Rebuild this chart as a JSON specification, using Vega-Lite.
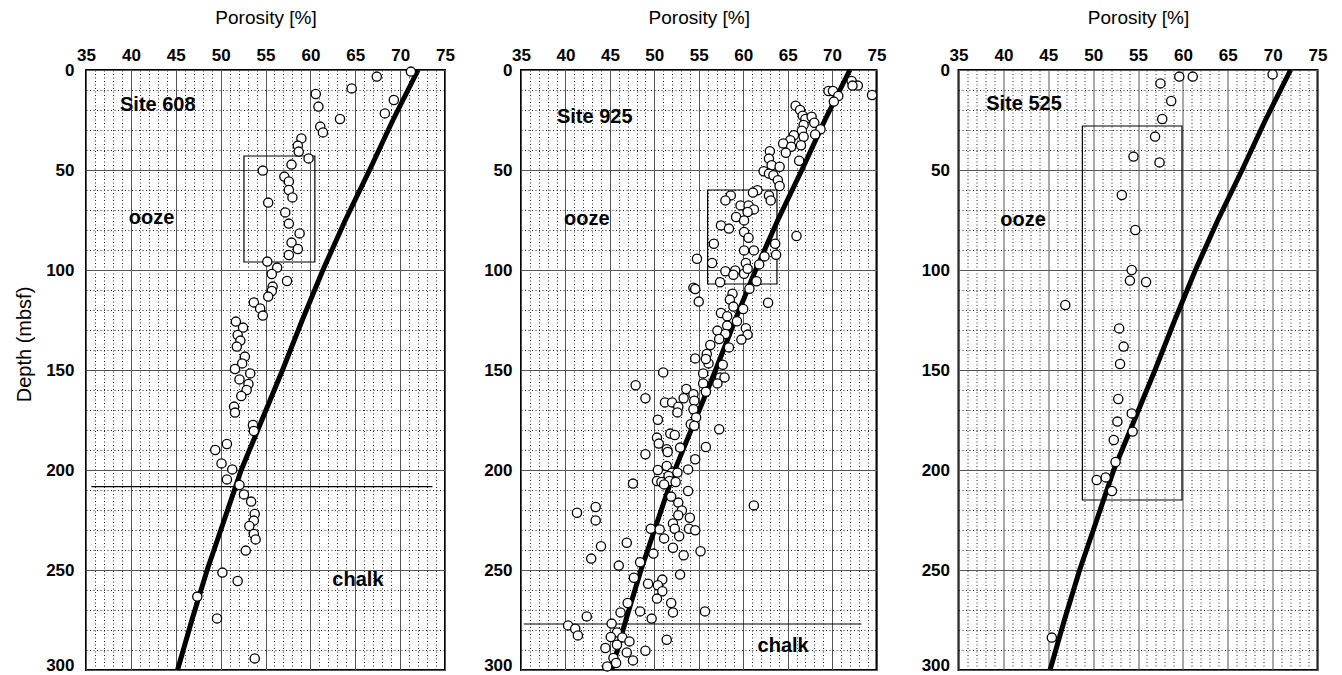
{
  "$schema": "https://vega.github.io/schema/vega-lite/v6.json",
  "autosize": {"type": "pad"},
  "padding": {"left": 13, "top": 7, "right": 5, "bottom": 0},
  "background": "white",
  "config": {
    "view": {"stroke": "#000", "strokeWidth": 2},
    "font": "Liberation Sans"
  },
  "datasets": {
    "pts": [
      {"site": "608", "por": 71.2, "depth": 0.8}, {"site": "608", "por": 67.4, "depth": 3.3}, {"site": "608", "por": 64.6, "depth": 9.2},
      {"site": "608", "por": 60.6, "depth": 12}, {"site": "608", "por": 69.3, "depth": 15}, {"site": "608", "por": 60.9, "depth": 18.3},
      {"site": "608", "por": 68.3, "depth": 21.7}, {"site": "608", "por": 63.3, "depth": 24.5}, {"site": "608", "por": 61.1, "depth": 28.3},
      {"site": "608", "por": 61.4, "depth": 31.2}, {"site": "608", "por": 59.0, "depth": 34.2}, {"site": "608", "por": 58.6, "depth": 37.8},
      {"site": "608", "por": 58.7, "depth": 40.8}, {"site": "608", "por": 59.8, "depth": 44.2}, {"site": "608", "por": 57.9, "depth": 47.3},
      {"site": "608", "por": 54.7, "depth": 50.3}, {"site": "608", "por": 57.1, "depth": 53.3}, {"site": "608", "por": 57.6, "depth": 55.7},
      {"site": "608", "por": 57.6, "depth": 60}, {"site": "608", "por": 58.0, "depth": 63.7}, {"site": "608", "por": 55.3, "depth": 66.3},
      {"site": "608", "por": 57.2, "depth": 71.2}, {"site": "608", "por": 57.6, "depth": 76.8}, {"site": "608", "por": 58.8, "depth": 81.7},
      {"site": "608", "por": 57.9, "depth": 86.3}, {"site": "608", "por": 58.6, "depth": 89.5}, {"site": "608", "por": 57.6, "depth": 92.5},
      {"site": "608", "por": 55.2, "depth": 95.8}, {"site": "608", "por": 56.3, "depth": 98.8}, {"site": "608", "por": 55.7, "depth": 102},
      {"site": "608", "por": 57.4, "depth": 105.5}, {"site": "608", "por": 55.8, "depth": 108.3}, {"site": "608", "por": 55.7, "depth": 110.5},
      {"site": "608", "por": 55.3, "depth": 113.3}, {"site": "608", "por": 53.7, "depth": 116.2}, {"site": "608", "por": 54.4, "depth": 119.2},
      {"site": "608", "por": 54.7, "depth": 122.8}, {"site": "608", "por": 51.7, "depth": 125.8}, {"site": "608", "por": 52.5, "depth": 128.8},
      {"site": "608", "por": 51.9, "depth": 132.5}, {"site": "608", "por": 52.2, "depth": 135.3}, {"site": "608", "por": 51.8, "depth": 138.3},
      {"site": "608", "por": 52.7, "depth": 143.3}, {"site": "608", "por": 52.4, "depth": 146.7}, {"site": "608", "por": 51.6, "depth": 149.5},
      {"site": "608", "por": 53.3, "depth": 151.7}, {"site": "608", "por": 52.1, "depth": 154.7}, {"site": "608", "por": 53.1, "depth": 157},
      {"site": "608", "por": 52.9, "depth": 160}, {"site": "608", "por": 52.3, "depth": 163}, {"site": "608", "por": 51.5, "depth": 168.3},
      {"site": "608", "por": 51.6, "depth": 171.3}, {"site": "608", "por": 53.6, "depth": 177.5}, {"site": "608", "por": 53.7, "depth": 180.5},
      {"site": "608", "por": 50.7, "depth": 187}, {"site": "608", "por": 49.4, "depth": 190}, {"site": "608", "por": 50.1, "depth": 196.7},
      {"site": "608", "por": 51.3, "depth": 199.7}, {"site": "608", "por": 50.7, "depth": 204.7}, {"site": "608", "por": 52.1, "depth": 207.5},
      {"site": "608", "por": 52.6, "depth": 212.2}, {"site": "608", "por": 53.4, "depth": 215.8}, {"site": "608", "por": 53.8, "depth": 222},
      {"site": "608", "por": 53.7, "depth": 225.3}, {"site": "608", "por": 53.2, "depth": 228}, {"site": "608", "por": 53.7, "depth": 232},
      {"site": "608", "por": 53.9, "depth": 234.7}, {"site": "608", "por": 52.8, "depth": 240.3}, {"site": "608", "por": 50.2, "depth": 251.3},
      {"site": "608", "por": 51.9, "depth": 255.5}, {"site": "608", "por": 47.4, "depth": 263.3}, {"site": "608", "por": 49.6, "depth": 274.2},
      {"site": "608", "por": 53.8, "depth": 294.2},

      {"site": "925", "por": 74.5, "depth": 12.5}, {"site": "925", "por": 69.6, "depth": 10.5}, {"site": "925", "por": 70.1, "depth": 10.5},
      {"site": "925", "por": 70.7, "depth": 13}, {"site": "925", "por": 70.2, "depth": 15.8}, {"site": "925", "por": 72.2, "depth": 5.5},
      {"site": "925", "por": 72.9, "depth": 7.8}, {"site": "925", "por": 72.3, "depth": 7.8}, {"site": "925", "por": 65.9, "depth": 17.9},
      {"site": "925", "por": 66.4, "depth": 20}, {"site": "925", "por": 66.7, "depth": 22.9}, {"site": "925", "por": 67.0, "depth": 24.5},
      {"site": "925", "por": 67.7, "depth": 23.4}, {"site": "925", "por": 66.8, "depth": 27.5}, {"site": "925", "por": 68.0, "depth": 26.4},
      {"site": "925", "por": 68.7, "depth": 29.6}, {"site": "925", "por": 68.1, "depth": 32.2}, {"site": "925", "por": 66.6, "depth": 30.4},
      {"site": "925", "por": 66.8, "depth": 33.4}, {"site": "925", "por": 65.7, "depth": 32.6}, {"site": "925", "por": 65.3, "depth": 35.1},
      {"site": "925", "por": 64.5, "depth": 36.7}, {"site": "925", "por": 65.4, "depth": 38.4}, {"site": "925", "por": 66.5, "depth": 37.6},
      {"site": "925", "por": 64.8, "depth": 41.4}, {"site": "925", "por": 66.3, "depth": 45.4}, {"site": "925", "por": 63.0, "depth": 40.6},
      {"site": "925", "por": 62.9, "depth": 44.3}, {"site": "925", "por": 63.2, "depth": 47.6}, {"site": "925", "por": 64.1, "depth": 48.4},
      {"site": "925", "por": 62.3, "depth": 50.6}, {"site": "925", "por": 62.9, "depth": 51.8}, {"site": "925", "por": 63.4, "depth": 52.6},
      {"site": "925", "por": 63.9, "depth": 55.1}, {"site": "925", "por": 64.1, "depth": 58}, {"site": "925", "por": 61.6, "depth": 60.1},
      {"site": "925", "por": 61.1, "depth": 61.3}, {"site": "925", "por": 62.9, "depth": 62.7}, {"site": "925", "por": 63.1, "depth": 65.2},
      {"site": "925", "por": 58.6, "depth": 62.7}, {"site": "925", "por": 58.0, "depth": 65.2}, {"site": "925", "por": 59.7, "depth": 67.7},
      {"site": "925", "por": 60.6, "depth": 67.7}, {"site": "925", "por": 61.2, "depth": 69.7}, {"site": "925", "por": 60.5, "depth": 71},
      {"site": "925", "por": 59.2, "depth": 73.5}, {"site": "925", "por": 60.1, "depth": 75.2}, {"site": "925", "por": 57.5, "depth": 77.7},
      {"site": "925", "por": 58.4, "depth": 79.3}, {"site": "925", "por": 60.1, "depth": 81}, {"site": "925", "por": 60.6, "depth": 83.9},
      {"site": "925", "por": 66.0, "depth": 83}, {"site": "925", "por": 56.7, "depth": 86.9}, {"site": "925", "por": 63.6, "depth": 86.9},
      {"site": "925", "por": 61.2, "depth": 90.2}, {"site": "925", "por": 60.1, "depth": 90.2}, {"site": "925", "por": 62.4, "depth": 93.2},
      {"site": "925", "por": 63.7, "depth": 92.4}, {"site": "925", "por": 54.8, "depth": 94.4}, {"site": "925", "por": 56.5, "depth": 96.5},
      {"site": "925", "por": 60.3, "depth": 96.5}, {"site": "925", "por": 61.8, "depth": 97.2}, {"site": "925", "por": 58.0, "depth": 100.6},
      {"site": "925", "por": 59.1, "depth": 100.2}, {"site": "925", "por": 58.9, "depth": 102.4}, {"site": "925", "por": 60.1, "depth": 101.9},
      {"site": "925", "por": 60.5, "depth": 99.4}, {"site": "925", "por": 57.4, "depth": 106.1}, {"site": "925", "por": 61.5, "depth": 105.6},
      {"site": "925", "por": 54.4, "depth": 108.9}, {"site": "925", "por": 54.6, "depth": 109.5}, {"site": "925", "por": 60.7, "depth": 109.4},
      {"site": "925", "por": 58.8, "depth": 111.9}, {"site": "925", "por": 58.5, "depth": 114.8}, {"site": "925", "por": 55.0, "depth": 115.8},
      {"site": "925", "por": 62.8, "depth": 116.4}, {"site": "925", "por": 58.9, "depth": 118.3}, {"site": "925", "por": 60.0, "depth": 119.5},
      {"site": "925", "por": 57.5, "depth": 121.5}, {"site": "925", "por": 58.2, "depth": 123.1}, {"site": "925", "por": 59.3, "depth": 125.6},
      {"site": "925", "por": 58.2, "depth": 127.8}, {"site": "925", "por": 60.3, "depth": 129.1}, {"site": "925", "por": 57.1, "depth": 130.3},
      {"site": "925", "por": 58.0, "depth": 132}, {"site": "925", "por": 60.5, "depth": 132.3}, {"site": "925", "por": 57.3, "depth": 134.5},
      {"site": "925", "por": 59.8, "depth": 134.8}, {"site": "925", "por": 56.3, "depth": 137.5}, {"site": "925", "por": 58.4, "depth": 138.7},
      {"site": "925", "por": 54.6, "depth": 144.2}, {"site": "925", "por": 55.9, "depth": 142}, {"site": "925", "por": 56.1, "depth": 146.7},
      {"site": "925", "por": 55.8, "depth": 144.5}, {"site": "925", "por": 57.7, "depth": 147.4}, {"site": "925", "por": 55.5, "depth": 151.7},
      {"site": "925", "por": 57.4, "depth": 153.7}, {"site": "925", "por": 57.9, "depth": 153.7}, {"site": "925", "por": 57.1, "depth": 156.7},
      {"site": "925", "por": 55.5, "depth": 156.7}, {"site": "925", "por": 55.8, "depth": 160.9}, {"site": "925", "por": 51.0, "depth": 151.2},
      {"site": "925", "por": 47.9, "depth": 157.6}, {"site": "925", "por": 49.0, "depth": 164.1}, {"site": "925", "por": 53.6, "depth": 159.5},
      {"site": "925", "por": 53.3, "depth": 164.1}, {"site": "925", "por": 54.4, "depth": 162.1}, {"site": "925", "por": 54.5, "depth": 165.4},
      {"site": "925", "por": 51.2, "depth": 166.2}, {"site": "925", "por": 52.0, "depth": 166.2}, {"site": "925", "por": 52.7, "depth": 168.4},
      {"site": "925", "por": 54.4, "depth": 169.6}, {"site": "925", "por": 52.6, "depth": 171.2}, {"site": "925", "por": 54.7, "depth": 173.7},
      {"site": "925", "por": 50.4, "depth": 174.9}, {"site": "925", "por": 54.1, "depth": 177.1}, {"site": "925", "por": 54.5, "depth": 177.9},
      {"site": "925", "por": 57.3, "depth": 179.6}, {"site": "925", "por": 51.8, "depth": 181.8}, {"site": "925", "por": 52.3, "depth": 182.5},
      {"site": "925", "por": 50.3, "depth": 183.8}, {"site": "925", "por": 50.5, "depth": 186.8}, {"site": "925", "por": 52.9, "depth": 188.8},
      {"site": "925", "por": 55.8, "depth": 188.5}, {"site": "925", "por": 51.4, "depth": 189.6}, {"site": "925", "por": 51.5, "depth": 191},
      {"site": "925", "por": 49.0, "depth": 192.1}, {"site": "925", "por": 54.6, "depth": 194.6}, {"site": "925", "por": 51.4, "depth": 198},
      {"site": "925", "por": 50.4, "depth": 200}, {"site": "925", "por": 52.0, "depth": 201.3}, {"site": "925", "por": 52.6, "depth": 201.3},
      {"site": "925", "por": 53.8, "depth": 199.7}, {"site": "925", "por": 51.6, "depth": 203}, {"site": "925", "por": 47.6, "depth": 206.8},
      {"site": "925", "por": 50.3, "depth": 205.5}, {"site": "925", "por": 50.8, "depth": 206}, {"site": "925", "por": 51.7, "depth": 205.5},
      {"site": "925", "por": 52.4, "depth": 206}, {"site": "925", "por": 51.1, "depth": 207.2}, {"site": "925", "por": 53.8, "depth": 210.5},
      {"site": "925", "por": 51.9, "depth": 213.3}, {"site": "925", "por": 52.7, "depth": 216.3}, {"site": "925", "por": 61.2, "depth": 217.7},
      {"site": "925", "por": 41.3, "depth": 221.4}, {"site": "925", "por": 43.4, "depth": 218.5}, {"site": "925", "por": 43.4, "depth": 225.2},
      {"site": "925", "por": 53.1, "depth": 220.2}, {"site": "925", "por": 52.7, "depth": 222.6}, {"site": "925", "por": 54.0, "depth": 223.9},
      {"site": "925", "por": 52.1, "depth": 226.7}, {"site": "925", "por": 49.6, "depth": 229.4}, {"site": "925", "por": 50.6, "depth": 229.7},
      {"site": "925", "por": 52.3, "depth": 229.4}, {"site": "925", "por": 53.9, "depth": 229.4}, {"site": "925", "por": 54.6, "depth": 230.1},
      {"site": "925", "por": 51.1, "depth": 234.2}, {"site": "925", "por": 52.8, "depth": 233.1}, {"site": "925", "por": 44.0, "depth": 238.1},
      {"site": "925", "por": 46.9, "depth": 236.4}, {"site": "925", "por": 52.1, "depth": 238.9}, {"site": "925", "por": 49.9, "depth": 241.8},
      {"site": "925", "por": 53.3, "depth": 242.6}, {"site": "925", "por": 55.2, "depth": 240.6}, {"site": "925", "por": 42.9, "depth": 244.3},
      {"site": "925", "por": 48.4, "depth": 246.1}, {"site": "925", "por": 46.0, "depth": 247.8}, {"site": "925", "por": 52.9, "depth": 252.3},
      {"site": "925", "por": 47.7, "depth": 253.9}, {"site": "925", "por": 49.3, "depth": 256.9}, {"site": "925", "por": 50.9, "depth": 254.8},
      {"site": "925", "por": 50.4, "depth": 257.6}, {"site": "925", "por": 50.9, "depth": 260.6}, {"site": "925", "por": 50.3, "depth": 264.3},
      {"site": "925", "por": 51.9, "depth": 266.5}, {"site": "925", "por": 52.1, "depth": 271.2}, {"site": "925", "por": 55.7, "depth": 270.7},
      {"site": "925", "por": 47.0, "depth": 266.5}, {"site": "925", "por": 46.2, "depth": 271.2}, {"site": "925", "por": 48.4, "depth": 270.7},
      {"site": "925", "por": 42.4, "depth": 273.2}, {"site": "925", "por": 49.7, "depth": 274.3}, {"site": "925", "por": 40.3, "depth": 277.7},
      {"site": "925", "por": 41.1, "depth": 279.4}, {"site": "925", "por": 41.4, "depth": 282.7}, {"site": "925", "por": 45.2, "depth": 276.8},
      {"site": "925", "por": 45.8, "depth": 281.2}, {"site": "925", "por": 45.1, "depth": 283.5}, {"site": "925", "por": 46.4, "depth": 283.7},
      {"site": "925", "por": 47.2, "depth": 285.7}, {"site": "925", "por": 45.8, "depth": 287.4}, {"site": "925", "por": 51.4, "depth": 284.9},
      {"site": "925", "por": 44.5, "depth": 289.0}, {"site": "925", "por": 46.9, "depth": 291.2}, {"site": "925", "por": 49.0, "depth": 290.4},
      {"site": "925", "por": 45.4, "depth": 294.0}, {"site": "925", "por": 47.6, "depth": 295.2}, {"site": "925", "por": 44.7, "depth": 298.2},
      {"site": "925", "por": 45.7, "depth": 296.5},

      {"site": "525", "por": 70.0, "depth": 2.2}, {"site": "525", "por": 59.6, "depth": 3.3}, {"site": "525", "por": 61.1, "depth": 3.3},
      {"site": "525", "por": 57.5, "depth": 6.7}, {"site": "525", "por": 58.7, "depth": 15.5}, {"site": "525", "por": 57.7, "depth": 24.5},
      {"site": "525", "por": 56.9, "depth": 33.3}, {"site": "525", "por": 54.5, "depth": 43.3}, {"site": "525", "por": 57.4, "depth": 46.2},
      {"site": "525", "por": 53.2, "depth": 62.5}, {"site": "525", "por": 54.7, "depth": 80}, {"site": "525", "por": 54.3, "depth": 100},
      {"site": "525", "por": 54.1, "depth": 105.3}, {"site": "525", "por": 55.9, "depth": 106}, {"site": "525", "por": 46.9, "depth": 117.5},
      {"site": "525", "por": 52.9, "depth": 129.2}, {"site": "525", "por": 53.4, "depth": 138.3}, {"site": "525", "por": 53.0, "depth": 147},
      {"site": "525", "por": 52.8, "depth": 164.5}, {"site": "525", "por": 54.3, "depth": 171.7}, {"site": "525", "por": 52.7, "depth": 175.8},
      {"site": "525", "por": 54.4, "depth": 180.8}, {"site": "525", "por": 52.3, "depth": 185}, {"site": "525", "por": 52.5, "depth": 196},
      {"site": "525", "por": 50.4, "depth": 205}, {"site": "525", "por": 51.4, "depth": 203.7}, {"site": "525", "por": 52.1, "depth": 210.5},
      {"site": "525", "por": 45.4, "depth": 283.8}
    ],
    "curve": [
      {"por": 72.0, "depth": 0}, {"por": 69.2, "depth": 25}, {"por": 66.6, "depth": 50}, {"por": 63.9, "depth": 75},
      {"por": 61.4, "depth": 100}, {"por": 59.1, "depth": 125}, {"por": 56.9, "depth": 150}, {"por": 54.6, "depth": 175},
      {"por": 52.3, "depth": 200}, {"por": 50.4, "depth": 225}, {"por": 48.5, "depth": 250}, {"por": 46.8, "depth": 275},
      {"por": 45.2, "depth": 300}
    ],
    "boxes": [
      {"site": "608", "por": 52.6, "por2": 60.5, "depth": 43, "depth2": 96},
      {"site": "925", "por": 56.0, "por2": 63.8, "depth": 60, "depth2": 107},
      {"site": "525", "por": 48.8, "por2": 59.9, "depth": 28, "depth2": 215}
    ],
    "bounds": [
      {"site": "608", "por": 35.6, "por2": 73.6, "depth": 208.3},
      {"site": "925", "por": 35.3, "por2": 73.3, "depth": 277}
    ],
    "labels": [
      {"site": "608", "por": 43.0, "depth": 17.5, "text": "Site 608"},
      {"site": "608", "por": 42.3, "depth": 74, "text": "ooze"},
      {"site": "608", "por": 65.3, "depth": 255, "text": "chalk"},
      {"site": "925", "por": 43.3, "depth": 23.3, "text": "Site 925"},
      {"site": "925", "por": 42.4, "depth": 74.5, "text": "ooze"},
      {"site": "925", "por": 64.5, "depth": 288, "text": "chalk"},
      {"site": "525", "por": 42.3, "depth": 16.8, "text": "Site 525"},
      {"site": "525", "por": 42.2, "depth": 75, "text": "ooze"}
    ]
  },
  "spacing": 32.5,
  "hconcat": [
    {
      "spacing": 26,
      "hconcat": [
        {
          "width": 359, "height": 600,
          "encoding": {
            "x": {"field": "por", "type": "quantitative", "scale": {"domain": [35, 75], "nice": false, "zero": false},
              "axis": {"orient": "top", "title": "Porosity [%]", "values": [35,36,37,38,39,40,41,42,43,44,45,46,47,48,49,50,51,52,53,54,55,56,57,58,59,60,61,62,63,64,65,66,67,68,69,70,71,72,73,74,75],
                "labelExpr": "datum.value % 5 === 0 ? datum.label : ''", "ticks": false, "domain": false, "labelOverlap": false, "labelFlush": false,
                "labelFontSize": 17, "labelFontWeight": "bold", "labelColor": "#000", "labelPadding": 6, "titleFontSize": 19, "titleFontWeight": "normal", "titleColor": "#000", "titlePadding": 19,
                "gridColor": {"condition": {"test": "datum.value % 5 === 0", "value": "#555"}, "value": "#222"},
                "gridDash": {"condition": {"test": "datum.value % 5 === 0", "value": []}, "value": [1, 2.5]}, "gridWidth": 1}},
            "y": {"field": "depth", "type": "quantitative", "scale": {"domain": [0, 300], "reverse": true, "nice": false, "zero": false},
              "axis": {"title": "Depth (mbsf)", "titleY": 274, "values": [0,10,20,30,40,50,60,70,80,90,100,110,120,130,140,150,160,170,180,190,200,210,220,230,240,250,260,270,280,290,300],
                "labelExpr": "datum.value % 50 === 0 ? datum.label : ''", "ticks": false, "domain": false, "labelOverlap": false, "labelFlush": false,
                "labelBaseline": {"condition": {"test": "datum.value === 300", "value": "alphabetic"}, "value": "middle"},
                "labelFontSize": 17, "labelFontWeight": "bold", "labelColor": "#000", "labelPadding": 12, "titleFontSize": 20, "titleFontWeight": "normal", "titleColor": "#000", "titlePadding": 11,
                "gridColor": {"condition": {"test": "datum.value % 50 === 0", "value": "#555"}, "value": "#222"},
                "gridDash": {"condition": {"test": "datum.value % 50 === 0", "value": []}, "value": [1, 2.5]}, "gridWidth": 1}}
          },
          "layer": [
            {"data": {"name": "boxes"}, "transform": [{"filter": "datum.site === '608'"}], "mark": {"type": "rect", "fill": null, "stroke": "#000", "strokeWidth": 1.2},
              "encoding": {"x2": {"field": "por2"}, "y2": {"field": "depth2"}}},
            {"data": {"name": "bounds"}, "transform": [{"filter": "datum.site === '608'"}], "mark": {"type": "rule", "stroke": "#000", "strokeWidth": 1.2},
              "encoding": {"x2": {"field": "por2"}}},
            {"data": {"name": "curve"}, "mark": {"type": "line", "stroke": "#000", "strokeWidth": 5}, "encoding": {"order": {"field": "depth", "type": "quantitative"}}},
            {"data": {"name": "pts"}, "transform": [{"filter": "datum.site === '608'"}], "mark": {"type": "point", "shape": "circle", "filled": false, "fill": "#fff", "fillOpacity": 1, "stroke": "#000", "strokeWidth": 1.3, "size": 85, "opacity": 1}},
            {"data": {"name": "labels"}, "transform": [{"filter": "datum.site === '608'"}], "mark": {"type": "text", "fontSize": 20, "fontWeight": "bold", "color": "#000", "align": "center", "baseline": "middle"},
              "encoding": {"text": {"field": "text"}}}
          ]
        },
        {
          "width": 355.5, "height": 600,
          "encoding": {
            "x": {"field": "por", "type": "quantitative", "scale": {"domain": [35, 75], "nice": false, "zero": false},
              "axis": {"orient": "top", "title": "Porosity [%]", "values": [35,36,37,38,39,40,41,42,43,44,45,46,47,48,49,50,51,52,53,54,55,56,57,58,59,60,61,62,63,64,65,66,67,68,69,70,71,72,73,74,75],
                "labelExpr": "datum.value % 5 === 0 ? datum.label : ''", "ticks": false, "domain": false, "labelOverlap": false, "labelFlush": false,
                "labelFontSize": 17, "labelFontWeight": "bold", "labelColor": "#000", "labelPadding": 6, "titleFontSize": 19, "titleFontWeight": "normal", "titleColor": "#000", "titlePadding": 19,
                "gridColor": {"condition": {"test": "datum.value % 5 === 0", "value": "#555"}, "value": "#222"},
                "gridDash": {"condition": {"test": "datum.value % 5 === 0", "value": []}, "value": [1, 2.5]}, "gridWidth": 1}},
            "y": {"field": "depth", "type": "quantitative", "scale": {"domain": [0, 300], "reverse": true, "nice": false, "zero": false},
              "axis": {"title": null, "values": [0,10,20,30,40,50,60,70,80,90,100,110,120,130,140,150,160,170,180,190,200,210,220,230,240,250,260,270,280,290,300],
                "labelExpr": "datum.value % 50 === 0 ? datum.label : ''", "ticks": false, "domain": false, "labelOverlap": false, "labelFlush": false,
                "labelBaseline": {"condition": {"test": "datum.value === 300", "value": "alphabetic"}, "value": "middle"},
                "labelFontSize": 17, "labelFontWeight": "bold", "labelColor": "#000", "labelPadding": 9,
                "gridColor": {"condition": {"test": "datum.value % 50 === 0", "value": "#555"}, "value": "#222"},
                "gridDash": {"condition": {"test": "datum.value % 50 === 0", "value": []}, "value": [1, 2.5]}, "gridWidth": 1}}
          },
          "layer": [
            {"data": {"name": "boxes"}, "transform": [{"filter": "datum.site === '925'"}], "mark": {"type": "rect", "fill": null, "stroke": "#000", "strokeWidth": 1.2},
              "encoding": {"x2": {"field": "por2"}, "y2": {"field": "depth2"}}},
            {"data": {"name": "bounds"}, "transform": [{"filter": "datum.site === '925'"}], "mark": {"type": "rule", "stroke": "#000", "strokeWidth": 1.2},
              "encoding": {"x2": {"field": "por2"}}},
            {"data": {"name": "curve"}, "mark": {"type": "line", "stroke": "#000", "strokeWidth": 5}, "encoding": {"order": {"field": "depth", "type": "quantitative"}}},
            {"data": {"name": "pts"}, "transform": [{"filter": "datum.site === '925'"}], "mark": {"type": "point", "shape": "circle", "filled": false, "fill": "#fff", "fillOpacity": 1, "stroke": "#000", "strokeWidth": 1.3, "size": 85, "opacity": 1}},
            {"data": {"name": "labels"}, "transform": [{"filter": "datum.site === '925'"}], "mark": {"type": "text", "fontSize": 20, "fontWeight": "bold", "color": "#000", "align": "center", "baseline": "middle"},
              "encoding": {"text": {"field": "text"}}}
          ]
        }
      ]
    },
    {
      "width": 359, "height": 600,
      "encoding": {
        "x": {"field": "por", "type": "quantitative", "scale": {"domain": [35, 75], "nice": false, "zero": false},
          "axis": {"orient": "top", "title": "Porosity [%]", "values": [35,36,37,38,39,40,41,42,43,44,45,46,47,48,49,50,51,52,53,54,55,56,57,58,59,60,61,62,63,64,65,66,67,68,69,70,71,72,73,74,75],
            "labelExpr": "datum.value % 5 === 0 ? datum.label : ''", "ticks": false, "domain": false, "labelOverlap": false, "labelFlush": false,
            "labelFontSize": 17, "labelFontWeight": "bold", "labelColor": "#000", "labelPadding": 6, "titleFontSize": 19, "titleFontWeight": "normal", "titleColor": "#000", "titlePadding": 19,
            "gridColor": {"condition": {"test": "datum.value % 5 === 0", "value": "#555"}, "value": "#222"},
            "gridDash": {"condition": {"test": "datum.value % 5 === 0", "value": []}, "value": [1, 2.5]}, "gridWidth": 1}},
        "y": {"field": "depth", "type": "quantitative", "scale": {"domain": [0, 300], "reverse": true, "nice": false, "zero": false},
          "axis": {"title": null, "values": [0,10,20,30,40,50,60,70,80,90,100,110,120,130,140,150,160,170,180,190,200,210,220,230,240,250,260,270,280,290,300],
            "labelExpr": "datum.value % 50 === 0 ? datum.label : ''", "ticks": false, "domain": false, "labelOverlap": false, "labelFlush": false,
            "labelBaseline": {"condition": {"test": "datum.value === 300", "value": "alphabetic"}, "value": "middle"},
            "labelFontSize": 17, "labelFontWeight": "bold", "labelColor": "#000", "labelPadding": 9,
            "gridColor": {"condition": {"test": "datum.value % 50 === 0", "value": "#555"}, "value": "#222"},
            "gridDash": {"condition": {"test": "datum.value % 50 === 0", "value": []}, "value": [1, 2.5]}, "gridWidth": 1}}
      },
      "layer": [
        {"data": {"name": "boxes"}, "transform": [{"filter": "datum.site === '525'"}], "mark": {"type": "rect", "fill": null, "stroke": "#000", "strokeWidth": 1.2},
          "encoding": {"x2": {"field": "por2"}, "y2": {"field": "depth2"}}},
        {"data": {"name": "curve"}, "mark": {"type": "line", "stroke": "#000", "strokeWidth": 5}, "encoding": {"order": {"field": "depth", "type": "quantitative"}}},
        {"data": {"name": "pts"}, "transform": [{"filter": "datum.site === '525'"}], "mark": {"type": "point", "shape": "circle", "filled": false, "fill": "#fff", "fillOpacity": 1, "stroke": "#000", "strokeWidth": 1.3, "size": 85, "opacity": 1}},
        {"data": {"name": "labels"}, "transform": [{"filter": "datum.site === '525'"}], "mark": {"type": "text", "fontSize": 20, "fontWeight": "bold", "color": "#000", "align": "center", "baseline": "middle"},
          "encoding": {"text": {"field": "text"}}}
      ]
    }
  ]
}
